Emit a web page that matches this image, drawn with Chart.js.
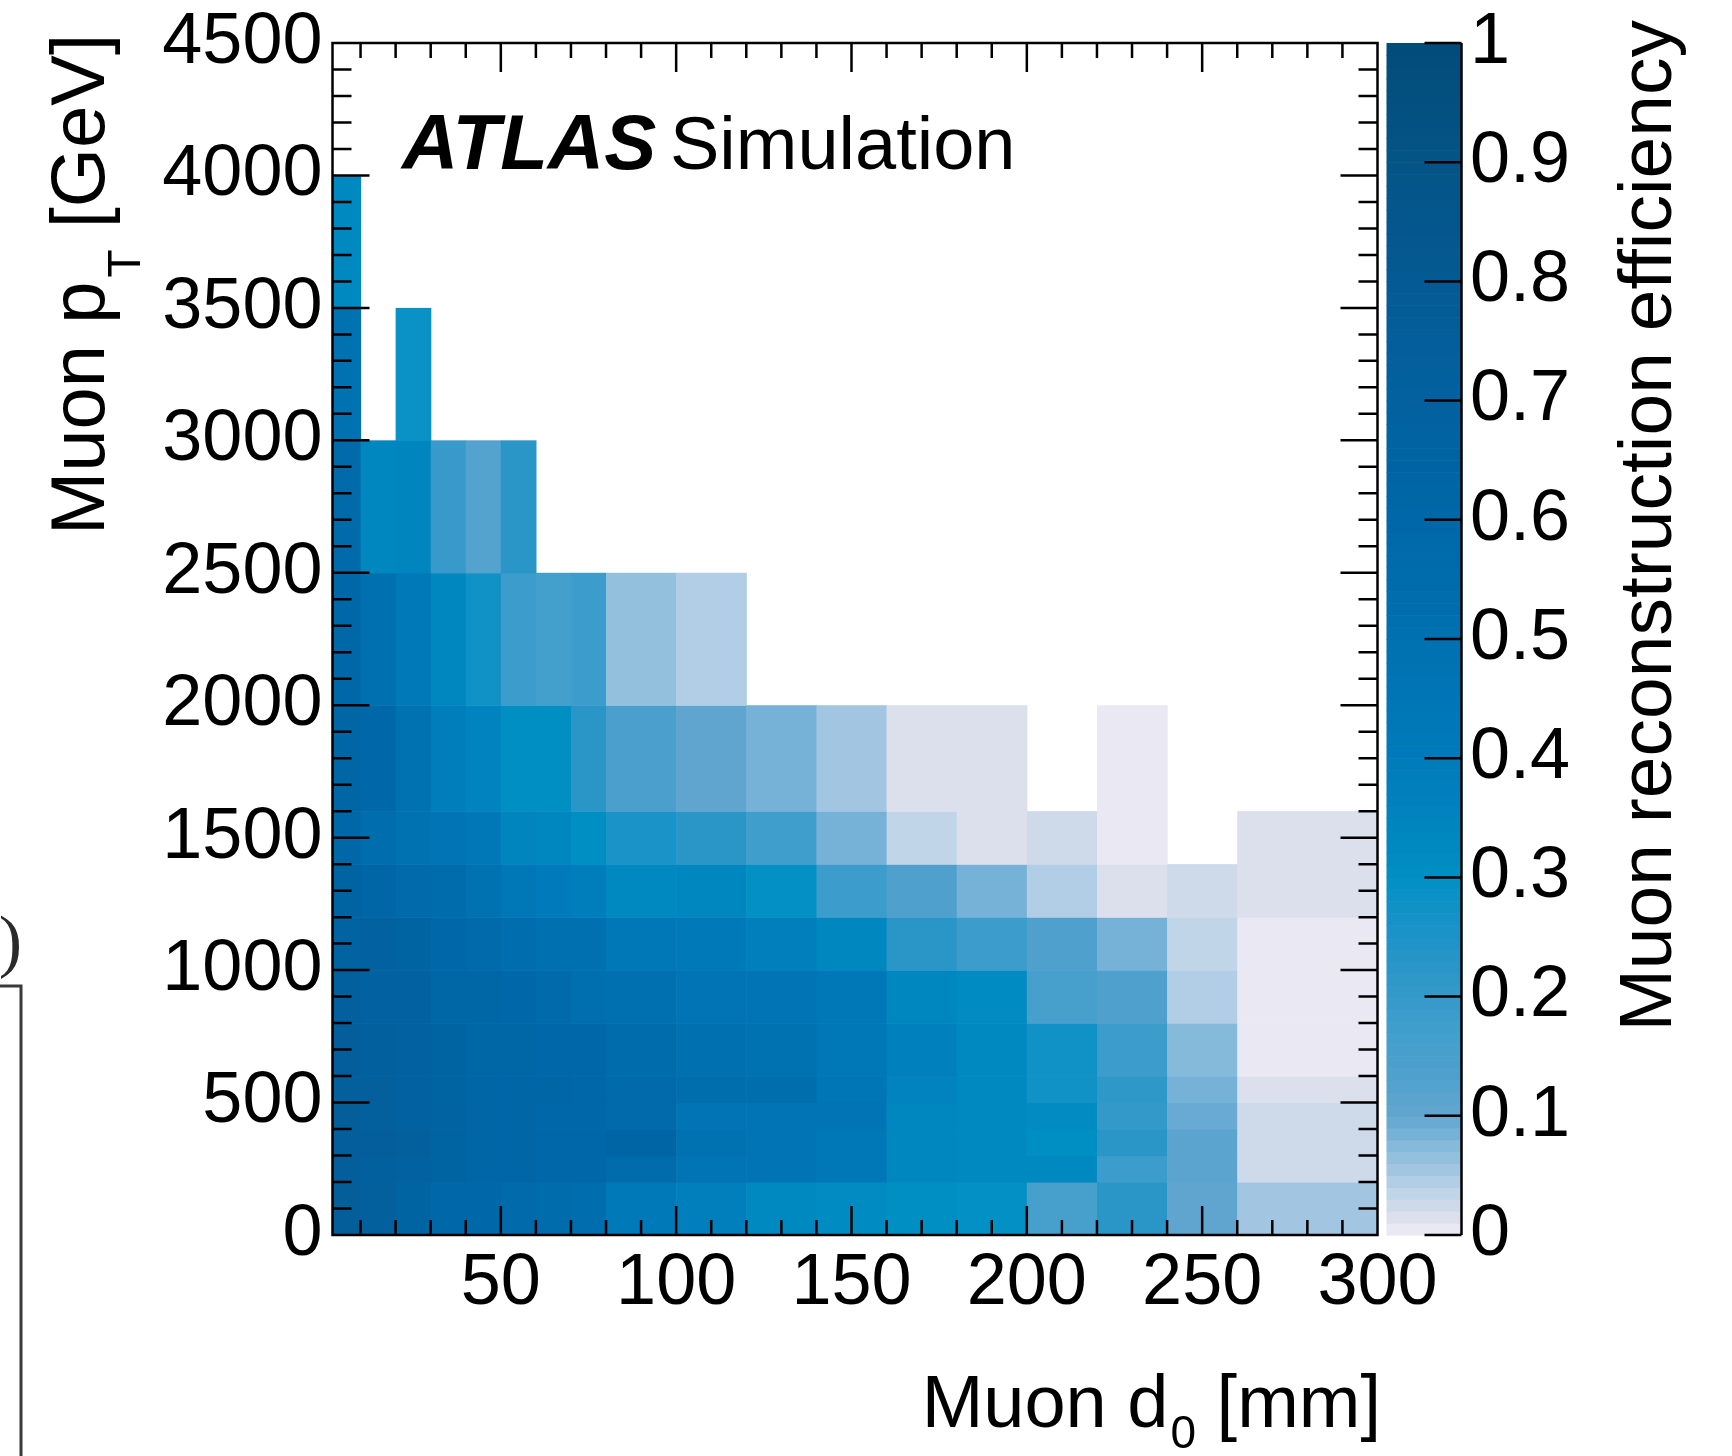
<!DOCTYPE html>
<html>
<head>
<meta charset="utf-8">
<title>Muon reconstruction efficiency vs d0 and pT</title>
<script src="https://cdn.jsdelivr.net/npm/chart.js@4.4.1/dist/chart.umd.min.js"></script>
<style>
    html, body { margin: 0; padding: 0; background: #fff; }
    #wrap { width: 1732px; height: 1456px; }
</style>
</head>
<body>
<div id="wrap"><canvas id="effMap" width="1732" height="1456"></canvas></div>
<script>
/**
 * Eficiencia de reconstrucción de muones en el plano (d0, pT)
 */

// Bordes de los bins
const D0_EDGES = [2, 10, 20, 30, 40, 50, 60, 70, 80, 100, 120, 140, 160, 180, 200, 220, 240, 260, 300];
const PT_EDGES = [0, 200, 300, 400, 500, 600, 800, 1000, 1200, 1400, 1600, 2000, 2500, 3000, 3500, 4000];

// Eficiencia por bin de pT, un valor por bin de d0 (null = bin vacío)
const effPt0to200     = [0.75, 0.72, 0.65, 0.60, 0.59, 0.57, 0.54, 0.52, 0.41, 0.37, 0.32, 0.31, 0.30, 0.29, 0.15, 0.22, 0.10, 0.05];
const effPt200to300   = [0.74, 0.71, 0.68, 0.65, 0.62, 0.62, 0.60, 0.60, 0.55, 0.46, 0.46, 0.42, 0.33, 0.32, 0.32, 0.18, 0.11, 0.02];
const effPt300to400   = [0.74, 0.74, 0.72, 0.65, 0.62, 0.62, 0.60, 0.60, 0.63, 0.48, 0.46, 0.42, 0.33, 0.32, 0.30, 0.22, 0.11, 0.02];
const effPt400to500   = [0.75, 0.72, 0.68, 0.66, 0.62, 0.62, 0.60, 0.60, 0.57, 0.46, 0.46, 0.46, 0.33, 0.32, 0.31, 0.20, 0.09, 0.02];
const effPt500to600   = [0.72, 0.72, 0.68, 0.65, 0.62, 0.62, 0.62, 0.60, 0.57, 0.53, 0.53, 0.44, 0.35, 0.32, 0.27, 0.21, 0.08, 0.01];
const effPt600to800   = [0.74, 0.71, 0.68, 0.65, 0.61, 0.61, 0.60, 0.59, 0.55, 0.50, 0.48, 0.43, 0.36, 0.32, 0.27, 0.18, 0.07, 0.002];
const effPt800to1000  = [0.71, 0.68, 0.68, 0.61, 0.61, 0.60, 0.57, 0.51, 0.50, 0.46, 0.46, 0.42, 0.33, 0.31, 0.15, 0.13, 0.04, 0.002];
const effPt1000to1200 = [0.67, 0.68, 0.65, 0.60, 0.57, 0.52, 0.50, 0.50, 0.43, 0.41, 0.37, 0.33, 0.22, 0.18, 0.13, 0.08, 0.03, 0.002];
const effPt1200to1400 = [0.65, 0.62, 0.57, 0.54, 0.48, 0.43, 0.40, 0.38, 0.32, 0.33, 0.29, 0.18, 0.13, 0.08, 0.04, 0.01, 0.02, 0.01];
const effPt1400to1600 = [0.60, 0.52, 0.48, 0.46, 0.42, 0.34, 0.33, 0.30, 0.25, 0.22, 0.17, 0.08, 0.03, 0.01, 0.02, 0.002, null, 0.01];
const effPt1600to2000 = [0.62, 0.60, 0.48, 0.38, 0.35, 0.30, 0.30, 0.22, 0.14, 0.10, 0.08, 0.05, 0.01, 0.01, null, 0.002];
const effPt2000to2500 = [0.60, 0.50, 0.41, 0.33, 0.27, 0.18, 0.16, 0.18, 0.06, 0.04];
const effPt2500to3000 = [0.57, 0.33, 0.34, 0.19, 0.12, 0.22];
const effPt3000to3500 = [0.49, null, 0.28];
const effPt3500to4000 = [0.32];

// Etiquetas de los ejes
const D0_TICKS = [50, 100, 150, 200, 250, 300];
const PT_TICKS = [0, 500, 1000, 1500, 2000, 2500, 3000, 3500, 4000, 4500];
const EFF_TICKS = [0, 0.1, 0.2, 0.3, 0.4, 0.5, 0.6, 0.7, 0.8, 0.9, 1];

// Paleta (posición -> color)
const PALETTE_POS = [0, 0.01, 0.02, 0.03, 0.04, 0.05, 0.06, 0.07, 0.08, 0.09, 0.10, 0.12, 0.14, 0.16, 0.18,
    0.20, 0.22, 0.25, 0.28, 0.30, 0.33, 0.36, 0.40, 0.45, 0.50, 0.55, 0.60, 0.65, 0.70, 0.75, 0.80, 0.85, 0.90, 0.95, 1.00];
const PALETTE_COL = ['#f0ebf6', '#e2e4f0', '#d6dcea', '#c6d6e8', '#b9d3e8', '#a9c8e3', '#9ac3df', '#8bbfdb', '#80b4da',
    '#6dadd6', '#62a6d0', '#57a3ce', '#4c9fcc', '#45a0cc', '#3e9dcc', '#3599c9', '#2c97c8', '#1d93c8', '#0d92c7',
    '#0090c4', '#0088c0', '#0082bd', '#007bba', '#0075b5', '#0070b0', '#006cac', '#0068a8', '#0064a3', '#0361a0',
    '#045e9a', '#045a93', '#04578d', '#045486', '#035080', '#024c7a'];

const FONT = '"Liberation Sans", Arial, Helvetica, sans-serif';
const N_LEVELS = 100;

const EFF_ROWS = [
    effPt0to200, effPt200to300, effPt300to400, effPt400to500, effPt500to600,
    effPt600to800, effPt800to1000, effPt1000to1200, effPt1200to1400, effPt1400to1600,
    effPt1600to2000, effPt2000to2500, effPt2500to3000, effPt3000to3500, effPt3500to4000
];

function hexToRgb(hex) {
    const n = parseInt(hex.slice(1), 16);
    return [(n >> 16) & 255, (n >> 8) & 255, n & 255];
}

const PALETTE_RGB = PALETTE_COL.map(hexToRgb);

function paletteAt(t) {
    if (t <= PALETTE_POS[0]) return PALETTE_RGB[0];
    for (let i = 1; i < PALETTE_POS.length; i++) {
        if (t <= PALETTE_POS[i]) {
            const f = (t - PALETTE_POS[i - 1]) / (PALETTE_POS[i] - PALETTE_POS[i - 1]);
            const a = PALETTE_RGB[i - 1], b = PALETTE_RGB[i];
            return a.map((c, k) => Math.round(c + (b[k] - c) * f));
        }
    }
    return PALETTE_RGB[PALETTE_RGB.length - 1];
}

// Color por nivel de contorno (como COLZ)
function levelColor(v) {
    const lvl = Math.min(Math.floor(v * N_LEVELS + 1e-6), N_LEVELS - 1);
    const rgb = paletteAt((lvl + 0.5) / N_LEVELS);
    return `rgb(${rgb[0]}, ${rgb[1]}, ${rgb[2]})`;
}

// Celdas del histograma
const cells = [];
EFF_ROWS.forEach((row, j) => {
    row.forEach((v, i) => {
        if (v === null || v === undefined) return;
        cells.push({
            x: (D0_EDGES[i] + D0_EDGES[i + 1]) / 2,
            y: (PT_EDGES[j] + PT_EDGES[j + 1]) / 2,
            x0: D0_EDGES[i], x1: D0_EDGES[i + 1],
            y0: PT_EDGES[j], y1: PT_EDGES[j + 1],
            v: v
        });
    });
});

const heatmapPlugin = {
    id: 'heatmap',
    beforeDatasetsDraw(chart) {
        const { ctx, chartArea: a, scales: { x, y } } = chart;
        ctx.save();
        ctx.beginPath();
        ctx.rect(a.left, a.top, a.width, a.height);
        ctx.clip();
        chart.data.datasets[0].data.forEach(c => {
            const l = x.getPixelForValue(c.x0);
            const r = x.getPixelForValue(c.x1);
            const t = y.getPixelForValue(c.y1);
            const b = y.getPixelForValue(c.y0);
            ctx.fillStyle = levelColor(c.v);
            ctx.fillRect(l, t, r - l + 0.6, b - t + 0.6);
        });
        ctx.restore();
    }
};

// Marco y ticks hacia adentro en los cuatro lados
const frameTicksPlugin = {
    id: 'frameTicks',
    afterDatasetsDraw(chart) {
        const { ctx, chartArea: a, scales: { x, y } } = chart;
        ctx.save();
        ctx.strokeStyle = '#000';
        ctx.lineWidth = 2.5;
        ctx.beginPath();
        for (let v = 10; v < 300; v += 10) {
            const px = x.getPixelForValue(v);
            const len = v % 50 === 0 ? 29 : 15;
            ctx.moveTo(px, a.bottom); ctx.lineTo(px, a.bottom - len);
            ctx.moveTo(px, a.top); ctx.lineTo(px, a.top + len);
        }
        for (let v = 100; v < 4500; v += 100) {
            const py = y.getPixelForValue(v);
            const len = v % 500 === 0 ? 37 : 19;
            ctx.moveTo(a.left, py); ctx.lineTo(a.left + len, py);
            ctx.moveTo(a.right, py); ctx.lineTo(a.right - len, py);
        }
        ctx.stroke();
        ctx.strokeRect(a.left, a.top, a.width, a.height);
        ctx.restore();
    }
};

// Barra de colores
const colorBarPlugin = {
    id: 'colorBar',
    afterDraw(chart) {
        const { ctx, chartArea: a, scales: { z } } = chart;
        const left = a.right + 9;
        const right = left + 75;
        ctx.save();
        for (let k = 0; k < N_LEVELS; k++) {
            const top = z.getPixelForValue((k + 1) / N_LEVELS);
            const bot = z.getPixelForValue(k / N_LEVELS);
            ctx.fillStyle = levelColor((k + 0.5) / N_LEVELS);
            ctx.fillRect(left, top, right - left, bot - top + 0.6);
        }
        ctx.strokeStyle = '#000';
        ctx.lineWidth = 2.5;
        ctx.beginPath();
        ctx.moveTo(right, a.top); ctx.lineTo(right, a.bottom);
        EFF_TICKS.forEach(v => {
            const py = z.getPixelForValue(v);
            ctx.moveTo(right, py); ctx.lineTo(right - 37, py);
        });
        ctx.stroke();
        ctx.restore();
    }
};

// Texto con subíndices: [{ text, size, dy, gap, style }]
function drawRich(ctx, parts, align) {
    let total = 0;
    const widths = parts.map(p => {
        ctx.font = `${p.style || ''} ${p.size}px ${FONT}`;
        const w = ctx.measureText(p.text).width + (p.gap || 0);
        total += w;
        return w;
    });
    let cx = align === 'right' ? -total : 0;
    parts.forEach((p, i) => {
        ctx.font = `${p.style || ''} ${p.size}px ${FONT}`;
        ctx.fillText(p.text, cx + (p.gap || 0), p.dy || 0);
        cx += widths[i];
    });
}

const labelsPlugin = {
    id: 'labels',
    afterDraw(chart) {
        const { ctx } = chart;
        ctx.save();
        ctx.fillStyle = '#000';
        ctx.textAlign = 'left';
        ctx.textBaseline = 'alphabetic';

        // Título eje Y
        ctx.save();
        ctx.translate(104, 34);
        ctx.rotate(-Math.PI / 2);
        drawRich(ctx, [
            { text: 'Muon p', size: 76 },
            { text: 'T', size: 46, dy: 36, gap: 4 },
            { text: ' [GeV]', size: 76 }
        ], 'right');
        ctx.restore();

        // Título eje X
        ctx.save();
        ctx.translate(1381, 1427);
        drawRich(ctx, [
            { text: 'Muon d', size: 74 },
            { text: '0', size: 46, dy: 21, gap: 2 },
            { text: ' [mm]', size: 74 }
        ], 'right');
        ctx.restore();

        // Título de la barra de colores
        ctx.save();
        ctx.translate(1671, 20);
        ctx.rotate(-Math.PI / 2);
        drawRich(ctx, [{ text: 'Muon reconstruction efficiency', size: 75 }], 'right');
        ctx.restore();

        // Etiqueta ATLAS
        ctx.font = `italic bold 78px ${FONT}`;
        ctx.fillText('ATLAS', 402, 169);
        ctx.font = `74px ${FONT}`;
        ctx.fillText('Simulation', 670, 169);

        // Borde del panel vecino, cortado en el margen
        ctx.strokeStyle = '#3a3a3a';
        ctx.lineWidth = 3;
        ctx.beginPath();
        ctx.moveTo(0, 986); ctx.lineTo(21, 986); ctx.lineTo(21, 1456);
        ctx.stroke();
        ctx.fillStyle = '#2a2a2a';
        ctx.textAlign = 'right';
        ctx.font = '70px "Liberation Serif", serif';
        ctx.fillText(')', 22, 964);
        ctx.restore();
    }
};

const tickFont = { family: FONT, size: 72, lineHeight: 1 };
const numLabel = v => String(+Number(v).toFixed(2));

// Los ejes verticales no deben empujar el área del gráfico
function fixVertical(width) {
    return s => {
        s.width = width;
        s.paddingTop = 0;
        s.paddingBottom = 0;
    };
}

new Chart(document.getElementById('effMap'), {
    type: 'scatter',
    data: {
        datasets: [{
            label: 'Muon reconstruction efficiency',
            data: cells,
            pointRadius: 0,
            pointHoverRadius: 0,
            showLine: false
        }]
    },
    options: {
        responsive: false,
        animation: false,
        events: [],
        devicePixelRatio: 1,
        layout: { padding: { top: 43, left: 0, right: 0, bottom: 0 } },
        plugins: {
            legend: { display: false },
            tooltip: { enabled: false }
        },
        scales: {
            x: {
                type: 'linear',
                position: 'bottom',
                min: 2,
                max: 300,
                afterBuildTicks: s => { s.ticks = D0_TICKS.map(v => ({ value: v })); },
                afterFit: s => { s.height = 221; s.paddingLeft = 0; s.paddingRight = 0; },
                grid: { display: false, drawTicks: false },
                border: { display: false },
                ticks: { font: tickFont, color: '#000', padding: 13, maxRotation: 0, autoSkip: false, callback: numLabel }
            },
            y: {
                type: 'linear',
                position: 'left',
                min: 0,
                max: 4500,
                afterBuildTicks: s => { s.ticks = PT_TICKS.map(v => ({ value: v })); },
                afterFit: fixVertical(332.5),
                grid: { display: false, drawTicks: false },
                border: { display: false },
                ticks: { font: tickFont, color: '#000', padding: 10, autoSkip: false, callback: numLabel }
            },
            z: {
                type: 'linear',
                position: 'right',
                min: 0,
                max: 1,
                afterBuildTicks: s => { s.ticks = EFF_TICKS.map(v => ({ value: v })); },
                afterFit: fixVertical(354.5),
                grid: { display: false, drawTicks: false },
                border: { display: false },
                ticks: { font: tickFont, color: '#000', padding: 92.5, autoSkip: false, callback: numLabel }
            }
        }
    },
    plugins: [heatmapPlugin, frameTicksPlugin, colorBarPlugin, labelsPlugin]
});
</script>
</body>
</html>
